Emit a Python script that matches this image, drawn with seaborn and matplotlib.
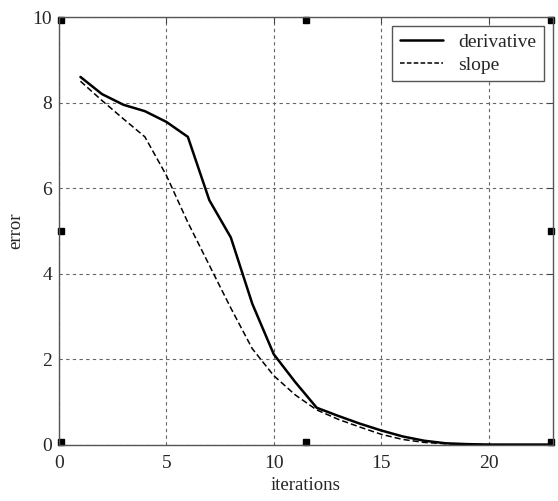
import numpy as np
import pandas as pd
import matplotlib
matplotlib.use("Agg")
import matplotlib.pyplot as plt
import seaborn as sns

iterations = list(range(1, 24))
derivative = [8.6, 8.2, 7.95, 7.8, 7.55, 7.2, 5.72, 4.85, 3.3, 2.12, 1.47, 0.87,
              0.68, 0.5, 0.34, 0.2, 0.1, 0.04, 0.02, 0.01, 0.01, 0.01, 0.01]
slope = [8.5, 8.05, 7.62, 7.2, 6.3, 5.2, 4.2, 3.2, 2.25, 1.62, 1.17, 0.82,
         0.6, 0.42, 0.25, 0.13, 0.06, 0.03, 0.01, 0.01, 0.0, 0.0, 0.0]
series_names = ["derivative", "slope"]
xticks = [0, 5, 10, 15, 20]
yticks = [0, 2, 4, 6, 8, 10]

df = pd.DataFrame({
    "iterations": iterations * 2,
    "error": derivative + slope,
    "series": [series_names[0]] * len(iterations) + [series_names[1]] * len(iterations),
})

sns.set_style("white")
plt.rcParams["font.family"] = ["Liberation Serif", "DejaVu Serif"]

fig = plt.figure(figsize=(5.58, 5.01), dpi=100)
ax = fig.add_axes([0.1057, 0.1118, 0.8853, 0.8542])

sns.lineplot(data=df, x="iterations", y="error", style="series",
             dashes={"derivative": "", "slope": (4, 2)},
             color="black", ax=ax, legend=False)
lines = ax.get_lines()
lines[0].set_linewidth(1.8)
lines[1].set_linewidth(1.1)

ax.set_xlim(0, 23)
ax.set_ylim(0, 10)
ax.set_xticks(xticks)
ax.set_yticks(yticks)
ax.grid(True, linestyle=(0, (3, 3)), color="#666666", linewidth=0.8)
ax.tick_params(direction="in", top=True, right=True, length=4, color="#444444",
               labelsize=14)
ax.tick_params(axis="x", pad=7)
ax.tick_params(axis="y", pad=5)
for s in ax.spines.values():
    s.set_color("#555555")
    s.set_linewidth(1.0)
ax.set_xlabel("iterations", fontsize=13.5, labelpad=4)
ax.set_ylabel("error", fontsize=13.5, labelpad=6)

# selection handles
for hx in (0, 0.5, 1):
    for hy in (0, 0.5, 1):
        if hx == 0.5 and hy == 0.5:
            continue
        ax.plot([hx + (0.005 if hx == 0 else -0.003 if hx == 1 else 0)],
                [hy + (0.006 if hy == 0 else -0.006 if hy == 1 else 0)],
                marker="s", color="black", markersize=4, transform=ax.transAxes,
                clip_on=False)

from matplotlib.lines import Line2D
handles = [Line2D([], [], color="black", lw=1.8),
           Line2D([], [], color="black", lw=1.1, dashes=(3, 1.5))]
leg = ax.legend(handles, series_names, loc="upper right", fontsize=14,
                frameon=True, fancybox=False, framealpha=1, edgecolor="#555555",
                handlelength=2.2, borderpad=0.4, labelspacing=0.25,
                handletextpad=0.8, borderaxespad=0.45)
leg.get_frame().set_linewidth(1.0)

fig.savefig("out.png", dpi=100)
